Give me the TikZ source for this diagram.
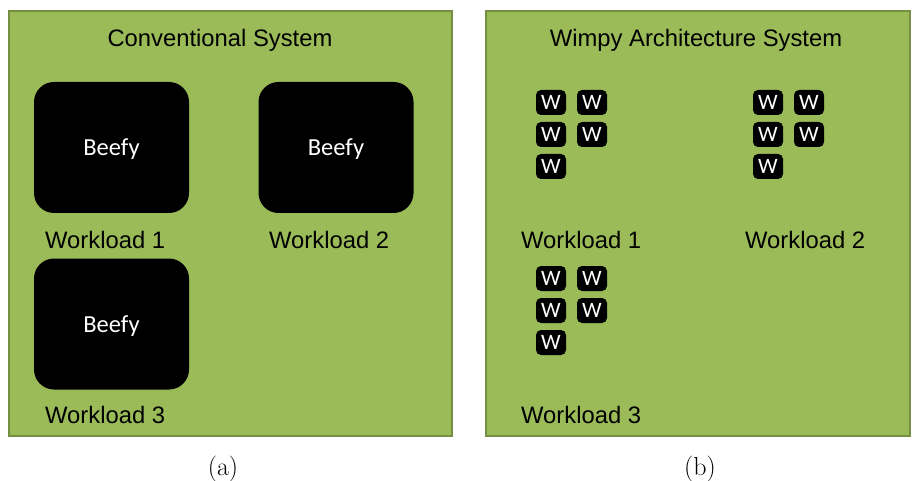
\documentclass[tikz,border=0pt]{standalone}
\usepackage{fontspec}
\setmainfont{Liberation Sans}
\newfontfamily\calib{Carlito}
\newfontfamily\lmserif{Latin Modern Roman}
\definecolor{panelfill}{HTML}{9BBB59}
\definecolor{paneledge}{HTML}{748E42}
\begin{document}
\begin{tikzpicture}[x=1pt,y=-1pt,
  panel/.style={fill=panelfill,draw=paneledge,line width=1.8pt},
  beefy/.style={fill=black,rounded corners=20pt,minimum width=155pt,minimum height=131pt,inner sep=0pt,
    text depth=0pt,text=white,font=\calib\fontsize{24.5}{28}\selectfont},
  wcore/.style={fill=black,rounded corners=5pt,minimum width=30pt,minimum height=25pt,inner sep=0pt,
    text=white,font=\calib\fontsize{22}{24}\selectfont},
  label/.style={anchor=base west,inner sep=0pt,font=\fontsize{23.8}{26}\selectfont},
  title/.style={anchor=base,inner sep=0pt,font=\fontsize{23.8}{26}\selectfont},
  caption/.style={anchor=base,inner sep=0pt,font=\lmserif\fontsize{26}{28}\selectfont}]
\useasboundingbox (0,0) rectangle (918,481);

% two system panels
\draw[panel] (9,11) rectangle (452,436);
\draw[panel] (486,11) rectangle (910,436);

% conventional system
\node[title] (tA) at (220,47) {Conventional System};
\node[beefy] (b1) at (111.5,147.5) {Beefy};
\node[beefy] (b2) at (336,147.5) {Beefy};
\node[beefy] (b3) at (111.5,324) {Beefy};
\node[label] (la1) at (45,248) {Workload 1};
\node[label] (la2) at (269,248) {Workload 2};
\node[label] (la3) at (45,423) {Workload 3};

% wimpy architecture system: three groups of five cores
\foreach \g/\gx/\gy in {1/551/102.5, 2/768/102.5, 3/551/278.5}{
  \node[wcore] (w\g a) at (\gx,\gy) {W};
  \node[wcore] (w\g b) at (\gx+41,\gy) {W};
  \node[wcore] (w\g c) at (\gx,\gy+32) {W};
  \node[wcore] (w\g d) at (\gx+41,\gy+32) {W};
  \node[wcore] (w\g e) at (\gx,\gy+64) {W};
}
\node[title] (tB) at (696,47) {Wimpy Architecture System};
\node[label] (lb1) at (521,248) {Workload 1};
\node[label] (lb2) at (745,248) {Workload 2};
\node[label] (lb3) at (521,423) {Workload 3};

% sub-figure captions
\node[caption] (ca) at (223,475) {(a)};
\node[caption] (cb) at (700,475) {(b)};
\end{tikzpicture}
\end{document}
